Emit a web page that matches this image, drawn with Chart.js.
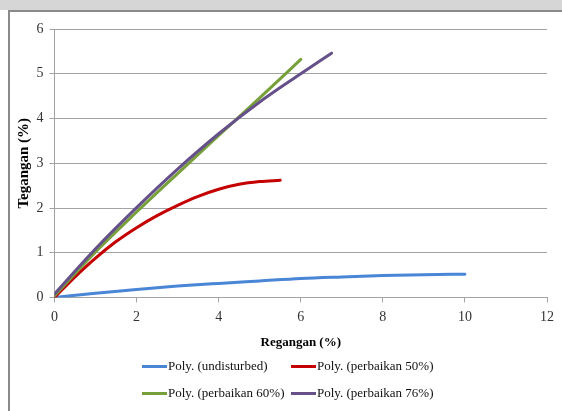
<html>
<head>
	<meta charset="utf-8">
	<title>Tegangan - Regangan</title>
	<style type="text/css">
		html, body { margin: 0; padding: 0; }
		body { width: 562px; height: 411px; background: #fff; position: relative; overflow: hidden; font-family: "Liberation Serif", serif; }
		#band { position: absolute; left: 0; top: 0; width: 562px; height: 10px; background: #d6d6d6; }
		#frame { position: absolute; left: 8px; top: 10px; width: 600px; height: 450px; border-left: 2px solid #8a8a8a; border-top: 2px solid #8a8a8a; background: #fff; }
		#myChart { position: absolute; left: 0; top: 0; }
		.legendRow { position: absolute; left: 142px; height: 16px; font-size: 13px; color: #111; white-space: nowrap; }
		.legendItem { position: absolute; top: 0; height: 16px; line-height: 16px; }
		.legendItem i { display: inline-block; width: 25px; height: 3px; vertical-align: middle; margin-right: 1px; position: relative; top: -1px; }
	</style>
</head>
<body>
	<div id="band"></div>
	<div id="frame"></div>
	<canvas id="myChart" width="562" height="411"></canvas>
	<!-- legend in two rows, like the original -->
	<div id="legend"></div>

	<script src="https://cdn.jsdelivr.net/npm/chart.js@4.4.0/dist/chart.umd.min.js"></script>
	<script type="text/javascript">
	// values
	var strainUndisturbed = [0, 1, 2, 3, 4, 5, 6, 7, 8, 9, 10];
	var stressUndisturbed = [0, 0.095, 0.18, 0.255, 0.315, 0.37, 0.425, 0.46, 0.49, 0.51, 0.52];

	var strain50 = [0, 0.5, 1, 1.5, 2, 2.5, 3, 3.5, 4, 4.5, 5, 5.5];
	var stress50 = [0, 0.46, 0.88, 1.25, 1.56, 1.83, 2.06, 2.26, 2.42, 2.53, 2.59, 2.62];

	var strain60 = [0, 1, 2, 3, 4, 5, 6];
	var stress60 = [0.04, 1.02, 1.91, 2.77, 3.62, 4.46, 5.32];

	var strain76 = [0, 1, 2, 3, 4, 5, 6, 6.75];
	var stress76 = [0.08, 1.09, 2.01, 2.87, 3.66, 4.37, 5.0, 5.46];

	var seriesNames = ["Poly. (undisturbed)", "Poly. (perbaikan 50%)", "Poly. (perbaikan 60%)", "Poly. (perbaikan 76%)"];
	var seriesColors = ["#4a86d6", "#c40000", "#77a03a", "#65508a"];

	var xTicks = [0, 2, 4, 6, 8, 10, 12];
	var yTicks = [0, 1, 2, 3, 4, 5, 6];

	function pts(xs, ys) {
		return xs.map(function (x, i) { return { x: x, y: ys[i] }; });
	}

	var allStrain = [strainUndisturbed, strain50, strain60, strain76];
	var allStress = [stressUndisturbed, stress50, stress60, stress76];

	var datasets = seriesNames.map(function (name, i) {
		return {
			label: name,
			data: pts(allStrain[i], allStress[i]),
			borderColor: seriesColors[i],
			backgroundColor: seriesColors[i],
			borderWidth: 3,
			pointRadius: 0,
			showLine: true,
			fill: false,
			cubicInterpolationMode: "monotone",
			borderCapStyle: "round",
			order: 3 - i
		};
	});

	var gridColor = "#a3a3a3";
	var tickFont = { family: "Liberation Serif", size: 14 };

	var ctx = document.getElementById("myChart");
	var myChart = new Chart(ctx, {
		type: "scatter",
		data: { datasets: datasets },
		options: {
			responsive: false,
			animation: false,
			layout: { padding: { left: 13, right: 15, top: 29, bottom: 61 } },
			plugins: { legend: { display: false }, tooltip: { enabled: false } },
			scales: {
				x: {
					type: "linear", min: 0, max: 12,
					afterBuildTicks: function (s) { s.ticks = xTicks.map(function (v) { return { value: v }; }); },
					ticks: { font: tickFont, color: "#333", padding: 6, maxRotation: 0 },
					grid: { drawOnChartArea: false, drawTicks: true, tickLength: 5, color: gridColor },
					border: { color: gridColor },
					title: { display: true, text: "Regangan (%)", font: { family: "Liberation Serif", size: 13, weight: "bold" }, color: "#000", padding: 0 },
					afterFit: function (s) { s.height = 52.5; }
				},
				y: {
					type: "linear", min: 0, max: 6,
					afterBuildTicks: function (s) { s.ticks = yTicks.map(function (v) { return { value: v }; }); },
					ticks: { font: tickFont, color: "#333", padding: 6 },
					grid: { drawTicks: true, tickLength: 5, color: gridColor },
					border: { color: gridColor },
					title: { display: true, text: "Tegangan (%)", font: { family: "Liberation Serif", size: 15, weight: "bold" }, color: "#000", padding: { top: 2, bottom: 0 } },
					afterFit: function (s) { s.width = 41.5; }
				}
			}
		}
	});

	// HTML legend, two rows of two
	var legend = document.getElementById("legend");
	var rowsY = [358, 385];
	var colsX = [0, 149];
	seriesNames.forEach(function (name, i) {
		var row = Math.floor(i / 2), col = i % 2;
		var item = document.createElement("div");
		item.className = "legendRow";
		item.style.top = rowsY[row] + "px";
		item.style.left = (142 + colsX[col]) + "px";
		var line = document.createElement("i");
		line.style.background = seriesColors[i];
		var span = document.createElement("span");
		span.textContent = name;
		var wrap = document.createElement("div");
		wrap.className = "legendItem";
		wrap.appendChild(line);
		wrap.appendChild(span);
		item.appendChild(wrap);
		legend.appendChild(item);
	});
	</script>
</body>
</html>
